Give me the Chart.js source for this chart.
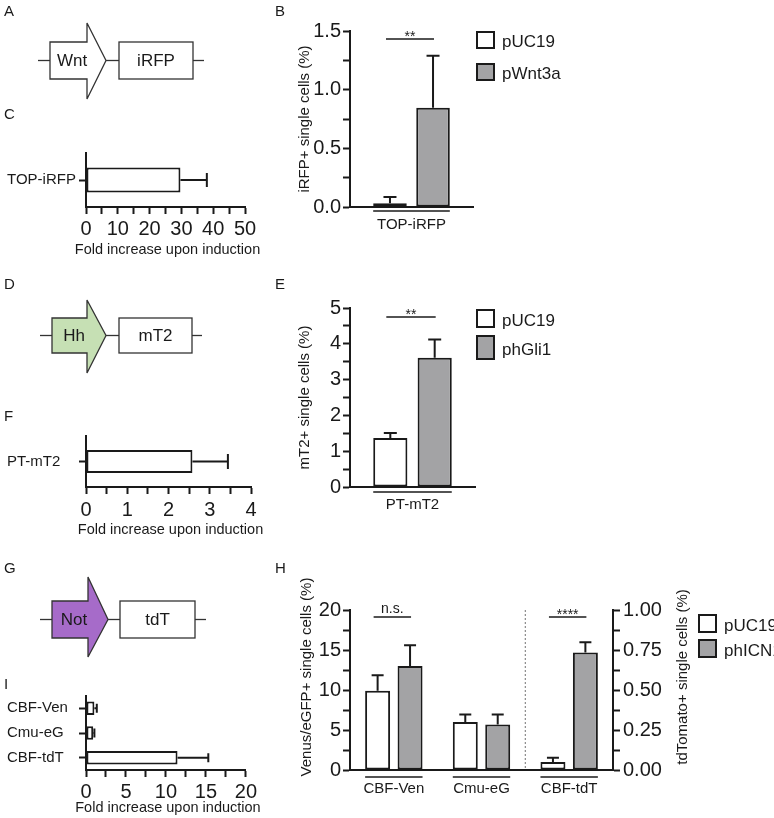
<!DOCTYPE html>
<html>
<head>
<meta charset="utf-8">
<script src="https://cdn.jsdelivr.net/npm/chart.js@4.4.1/dist/chart.umd.min.js"></script>
<style>
  body { margin: 0; background: #fff; }
  #fig { position: relative; width: 774px; height: 818px; overflow: hidden; font-family: "Liberation Sans", Arial, sans-serif; color: #1a1a1a; }
  #fig canvas, #fig svg, .lbl, .box, .ltxt { position: absolute; }
  .lbl { font-size: 15px; line-height: 15px; }
  .box { box-sizing: border-box; border: 2px solid #1a1a1a; }
  .ltxt { font-size: 17px; line-height: 20px; white-space: nowrap; }
</style>
</head>
<body>
<div id="fig"></div>
<script>
var FONT = '"Liberation Sans", Arial, sans-serif';
var INK = '#1a1a1a';
var GRAY = '#a3a3a5';

// B: TOP-iRFP, % iRFP+ cells
var catB = ['TOP-iRFP'];
var namesB = ['pUC19', 'pWnt3a'];
var pucB = [0.031], pucBErr = [0.054];
var wntB = [0.845], wntBErr = [0.445];
var sigB = ['**'];

// C: fold increase TOP-iRFP
var catC = ['TOP-iRFP'];
var foldC = [29.7], foldCErr = [8.3];

// E: PT-mT2, % mT2+ cells
var catE = ['PT-mT2'];
var namesE = ['pUC19', 'phGli1'];
var pucE = [1.37], pucEErr = [0.14];
var gliE = [3.61], gliEErr = [0.51];
var sigE = ['**'];

// F: fold increase PT-mT2
var catF = ['PT-mT2'];
var foldF = [2.58], foldFErr = [0.86];

// H: Notch reporters (left axis Venus/eGFP, right axis tdTomato)
var catH = ['CBF-Ven', 'Cmu-eG', 'CBF-tdT'];
var namesH = ['pUC19', 'phICN1'];
var pucH = [9.9, 6.0, null], pucHErr = [1.95, 0.95, null];
var icnH = [13.0, 5.7, null], icnHErr = [2.6, 1.25, null];
var pucTdT = [null, null, 0.05], pucTdTErr = [null, null, 0.027];
var icnTdT = [null, null, 0.735], icnTdTErr = [null, null, 0.063];
var sigH = ['n.s.', null, '****'];

// I: fold increase Notch reporters
var catI = ['CBF-Ven', 'Cmu-eG', 'CBF-tdT'];
var foldI = [1.05, 0.9, 11.45], foldIErr = [0.3, 0.15, 3.85];

var fig = document.getElementById('fig');

Chart.defaults.font.family = FONT;
Chart.defaults.color = INK;
Chart.defaults.animation = false;
Chart.defaults.events = [];
Chart.defaults.plugins.legend.display = false;
Chart.defaults.plugins.tooltip.enabled = false;

function makeCanvas(left, top, w, h) {
  var c = document.createElement('canvas');
  c.width = w; c.height = h;
  c.style.left = left + 'px'; c.style.top = top + 'px';
  c.style.width = w + 'px'; c.style.height = h + 'px';
  fig.appendChild(c);
  return c;
}

function barsAt(chart, i) {
  var out = [];
  chart.data.datasets.forEach(function(ds, di) {
    if (ds.data[i] == null) return;
    out.push(chart.getDatasetMeta(di).data[i]);
  });
  return out;
}

var errorBars = {
  id: 'errorBars',
  afterDatasetsDraw: function(chart, args, o) {
    var ctx = chart.ctx, horiz = chart.options.indexAxis === 'y';
    ctx.save();
    ctx.strokeStyle = INK; ctx.lineWidth = 2;
    chart.data.datasets.forEach(function(ds, di) {
      if (!ds.errors) return;
      var meta = chart.getDatasetMeta(di), vs = meta.vScale;
      ds.data.forEach(function(v, i) {
        if (v == null || ds.errors[i] == null) return;
        var bar = meta.data[i], half = o.cap / 2;
        var end = vs.getPixelForValue(v + ds.errors[i]);
        ctx.beginPath();
        if (horiz) {
          ctx.moveTo(bar.x, bar.y); ctx.lineTo(end, bar.y);
          ctx.moveTo(end, bar.y - half); ctx.lineTo(end, bar.y + half);
        } else {
          ctx.moveTo(bar.x, bar.y); ctx.lineTo(bar.x, end);
          ctx.moveTo(bar.x - half, end); ctx.lineTo(bar.x + half, end);
        }
        ctx.stroke();
      });
    });
    ctx.restore();
  }
};

// line under each group of bars
var groupLines = {
  id: 'groupLines',
  afterDraw: function(chart, args, o) {
    if (o.gap == null) return;
    var ctx = chart.ctx, y = chart.chartArea.bottom + o.gap;
    ctx.save(); ctx.strokeStyle = INK; ctx.lineWidth = 1.5;
    chart.data.labels.forEach(function(l, i) {
      var bars = barsAt(chart, i);
      if (!bars.length) return;
      var a = bars[0], b = bars[bars.length - 1];
      ctx.beginPath();
      ctx.moveTo(a.x - a.width / 2, y); ctx.lineTo(b.x + b.width / 2, y);
      ctx.stroke();
    });
    ctx.restore();
  }
};

var sigBars = {
  id: 'sigBars',
  afterDraw: function(chart, args, o) {
    if (!o.marks) return;
    var ctx = chart.ctx, y = chart.chartArea.top + o.dy;
    ctx.save(); ctx.strokeStyle = INK; ctx.fillStyle = INK; ctx.lineWidth = 1.5;
    ctx.textAlign = 'center'; ctx.textBaseline = 'alphabetic';
    o.marks.forEach(function(m, i) {
      if (!m) return;
      var bars = barsAt(chart, i);
      var x0 = bars[0].x - 4, x1 = bars[bars.length - 1].x + 1;
      ctx.beginPath(); ctx.moveTo(x0, y); ctx.lineTo(x1, y); ctx.stroke();
      var stars = m.charAt(0) === '*';
      ctx.font = '14px ' + FONT;
      ctx.fillText(m, (x0 + x1) / 2, stars ? y + 2 : y - 4);
    });
    ctx.restore();
  }
};

var separator = {
  id: 'separator',
  afterDraw: function(chart, args, o) {
    if (o.between == null) return;
    var xs = chart.scales.x, a = chart.chartArea, ctx = chart.ctx;
    var x = (xs.getPixelForValue(o.between) + xs.getPixelForValue(o.between + 1)) / 2;
    ctx.save(); ctx.strokeStyle = '#8a8a8a'; ctx.lineWidth = 1.2; ctx.setLineDash([2, 2]);
    ctx.beginPath(); ctx.moveTo(x, a.top); ctx.lineTo(x, a.bottom); ctx.stroke();
    ctx.restore();
  }
};

var axisTitles = {
  id: 'axisTitles',
  afterDraw: function(chart, args, o) {
    var ctx = chart.ctx, a = chart.chartArea;
    var cy = (a.top + a.bottom) / 2 + (o.dy || 0);
    ctx.save();
    ctx.fillStyle = INK; ctx.textAlign = 'center'; ctx.textBaseline = 'middle';
    ctx.font = (o.size || 15) + 'px ' + FONT;
    if (o.bottom) ctx.fillText(o.bottom, (a.left + a.right) / 2 + (o.bottomDx || 0), a.bottom + o.bottomDy);
    [['left', a.left - (o.leftDx || 0)], ['right', a.right + (o.rightDx || 0)]].forEach(function(s) {
      if (!o[s[0]]) return;
      ctx.save();
      ctx.translate(s[1], cy); ctx.rotate(-Math.PI / 2);
      ctx.fillText(o[s[0]], 0, 0);
      ctx.restore();
    });
    ctx.restore();
  }
};

var allPlugins = [errorBars, groupLines, sigBars, separator, axisTitles];

function valueAxis(position, size, max, step, major, dec, pad) {
  return {
    type: 'linear', position: position, min: 0, max: max, stacked: false,
    border: {display: true, color: INK, width: 2},
    grid: {display: true, drawOnChartArea: false, drawTicks: true, tickLength: 7, tickColor: INK, tickWidth: 2},
    ticks: {
      stepSize: step, autoSkip: false, maxRotation: 0, minRotation: 0, padding: pad,
      font: {size: 20}, color: INK,
      callback: function(v) {
        var k = v / major;
        return Math.abs(k - Math.round(k)) < 1e-6 ? v.toFixed(dec) : '';
      }
    },
    afterFit: function(s) { if (s.isHorizontal()) s.height = size; else s.width = size; }
  };
}

function catAxis(position, size, pad, marks) {
  return {
    type: 'category', position: position, offset: true,
    border: {display: true, color: INK, width: 2},
    grid: {display: marks, drawOnChartArea: false, drawTicks: marks, offset: false, tickLength: 7, tickColor: INK, tickWidth: 2},
    ticks: {autoSkip: false, maxRotation: 0, minRotation: 0, padding: pad, font: {size: 15}, color: INK, crossAlign: marks ? 'far' : 'near'},
    afterFit: function(s) { if (s.isHorizontal()) s.height = size; else s.width = size; }
  };
}

function barSet(label, data, errors, fill, extra) {
  var ds = {label: label, data: data, errors: errors, backgroundColor: fill,
            borderColor: INK, borderWidth: 2, borderSkipped: false};
  for (var k in extra) ds[k] = extra[k];
  return ds;
}

// vertical % charts
new Chart(makeCanvas(280, 0, 200, 240), {
  type: 'bar',
  data: {labels: catB, datasets: [
    barSet(namesB[0], pucB, pucBErr, '#ffffff'),
    barSet(namesB[1], wntB, wntBErr, GRAY)]},
  options: {
    responsive: false,
    layout: {padding: {top: 31, right: 7, left: 0, bottom: 0}},
    datasets: {bar: {categoryPercentage: 0.70, barPercentage: 0.78}},
    scales: {x: catAxis('bottom', 33, 9, false), y: valueAxis('left', 70, 1.5, 0.25, 0.5, 1, 2)},
    plugins: {errorBars: {cap: 13}, groupLines: {gap: 4}, sigBars: {marks: sigB, dy: 8},
              axisTitles: {left: 'iRFP+ single cells (%)', leftDx: 45}}
  },
  plugins: allPlugins
});

new Chart(makeCanvas(280, 270, 200, 250), {
  type: 'bar',
  data: {labels: catE, datasets: [
    barSet(namesE[0], pucE, pucEErr, '#ffffff'),
    barSet(namesE[1], gliE, gliEErr, GRAY)]},
  options: {
    responsive: false,
    layout: {padding: {top: 38, right: 5, left: 0, bottom: 0}},
    datasets: {bar: {categoryPercentage: 0.71, barPercentage: 0.77}},
    scales: {x: catAxis('bottom', 33, 9, false), y: valueAxis('left', 70, 5, 0.5, 1, 0, 2)},
    plugins: {errorBars: {cap: 13}, groupLines: {gap: 5}, sigBars: {marks: sigE, dy: 9},
              axisTitles: {left: 'mT2+ single cells (%)', leftDx: 45}}
  },
  plugins: allPlugins
});

new Chart(makeCanvas(280, 560, 420, 240), {
  type: 'bar',
  data: {labels: catH, datasets: [
    barSet(namesH[0], pucH, pucHErr, '#ffffff', {stack: 'w', yAxisID: 'y'}),
    barSet(namesH[1], icnH, icnHErr, GRAY, {stack: 'g', yAxisID: 'y'}),
    barSet(namesH[0], pucTdT, pucTdTErr, '#ffffff', {stack: 'w', yAxisID: 'y2'}),
    barSet(namesH[1], icnTdT, icnTdTErr, GRAY, {stack: 'g', yAxisID: 'y2'})]},
  options: {
    responsive: false,
    layout: {padding: {top: 50, right: 0, left: 0, bottom: 0}},
    datasets: {bar: {categoryPercentage: 0.74, barPercentage: 0.77}},
    scales: {
      x: catAxis('bottom', 30, 10, false),
      y: valueAxis('left', 70, 20, 2.5, 5, 0, 2),
      y2: valueAxis('right', 87, 1, 0.125, 0.25, 2, 3)
    },
    plugins: {errorBars: {cap: 12}, groupLines: {gap: 7}, sigBars: {marks: sigH, dy: 7},
              separator: {between: 1},
              axisTitles: {left: 'Venus/eGFP+ single cells (%)', leftDx: 43,
                           right: 'tdTomato+ single cells (%)', rightDx: 70, dy: -13}}
  },
  plugins: allPlugins
});

// horizontal fold-increase charts
function foldChart(left, top, w, h, pad, xSize, cats, vals, errs, max, step, major, thick, cap, tickPad) {
  return new Chart(makeCanvas(left, top, w, h), {
    type: 'bar',
    data: {labels: cats, datasets: [barSet('fold', vals, errs, '#ffffff')]},
    options: {
      responsive: false,
      indexAxis: 'y',
      layout: {padding: pad},
      datasets: {bar: {categoryPercentage: 1, barPercentage: thick}},
      scales: {y: catAxis('left', 79, 4, true), x: valueAxis('bottom', xSize, max, step, major, 0, tickPad)},
      plugins: {errorBars: {cap: cap},
                axisTitles: {bottom: 'Fold increase upon induction', bottomDy: xSize - 10, bottomDx: 2, size: 14.5}}
    },
    plugins: allPlugins
  });
}

foldChart(0, 140, 260, 120, {left: 7, top: 13, right: 15, bottom: 0}, 53, catC, foldC, foldCErr, 50, 5, 10, 0.46, 14, 3);
foldChart(0, 420, 265, 120, {left: 7, top: 16, right: 14, bottom: 0}, 53, catF, foldF, foldFErr, 4, 0.5, 1, 0.45, 15, 4);
foldChart(0, 680, 260, 138, {left: 7, top: 16, right: 14, bottom: 0}, 48, catI, foldI, foldIErr, 20, 2.5, 5, 0.55, 9, 3);

// reporter construct sketches
var constructs = [
  {prom: 'Wnt', rep: 'iRFP', fill: '#ffffff', y: 42, h: 37, sl: 38, x0: 50, neck: 87, ht: 23, hb: 99, tip: 106, b0: 119, b1: 193, sr: 204},
  {prom: 'Hh', rep: 'mT2', fill: '#c6e0b4', y: 318, h: 35, sl: 40, x0: 52, neck: 87, ht: 300, hb: 373, tip: 106, b0: 119, b1: 192, sr: 202},
  {prom: 'Not', rep: 'tdT', fill: '#a66bc9', y: 601, h: 37, sl: 40, x0: 52, neck: 88, ht: 577, hb: 657, tip: 108, b0: 120, b1: 195, sr: 206}
];
var svg = '<svg width="280" height="818" style="left:0;top:0" xmlns="http://www.w3.org/2000/svg">';
constructs.forEach(function(c) {
  var mid = c.y + c.h / 2, bot = c.y + c.h;
  svg += '<g stroke="#333" stroke-width="1.3" fill="none">' +
    '<line x1="' + c.sl + '" y1="' + mid + '" x2="' + c.x0 + '" y2="' + mid + '"/>' +
    '<line x1="' + c.tip + '" y1="' + mid + '" x2="' + c.b0 + '" y2="' + mid + '"/>' +
    '<line x1="' + c.b1 + '" y1="' + mid + '" x2="' + c.sr + '" y2="' + mid + '"/>' +
    '<polygon fill="' + c.fill + '" points="' + [c.x0, c.y, c.neck, c.y, c.neck, c.ht, c.tip, mid,
      c.neck, c.hb, c.neck, bot, c.x0, bot].join(' ') + '"/>' +
    '<rect fill="#fff" x="' + c.b0 + '" y="' + c.y + '" width="' + (c.b1 - c.b0) + '" height="' + c.h + '"/></g>' +
    '<g font-family=\'' + FONT + '\' font-size="17" fill="#1a1a1a" text-anchor="middle" dominant-baseline="central">' +
    '<text x="' + (c.x0 + 22) + '" y="' + mid + '">' + c.prom + '</text>' +
    '<text x="' + (c.b0 + c.b1) / 2 + '" y="' + mid + '">' + c.rep + '</text></g>';
});
svg += '</svg>';
fig.insertAdjacentHTML('beforeend', svg);

// panel letters
[['A', 4, 5], ['B', 275, 5], ['C', 4, 108], ['D', 4, 278], ['E', 275, 278],
 ['F', 4, 410], ['G', 4, 562], ['H', 275, 562], ['I', 4, 678]].forEach(function(p) {
  var d = document.createElement('div');
  d.className = 'lbl'; d.textContent = p[0];
  d.style.left = p[1] + 'px'; d.style.top = (p[2] - 2) + 'px';
  fig.appendChild(d);
});

// legends
function legend(x, items, names) {
  items.forEach(function(it, i) {
    var b = document.createElement('div');
    b.className = 'box';
    b.style.left = x + 'px'; b.style.top = it[0] + 'px';
    b.style.width = '19px'; b.style.height = it[1] + 'px';
    b.style.background = i === 0 ? '#ffffff' : GRAY;
    fig.appendChild(b);
    var t = document.createElement('div');
    t.className = 'ltxt'; t.textContent = names[i];
    t.style.left = (x + 26) + 'px'; t.style.top = (it[0] + it[1] / 2 - 8) + 'px';
    fig.appendChild(t);
  });
}
legend(476, [[31, 18], [63, 18]], namesB);
legend(476, [[309, 19], [335, 25]], namesE);
legend(698, [[614, 19], [639, 19]], namesH);
</script>
</body>
</html>
